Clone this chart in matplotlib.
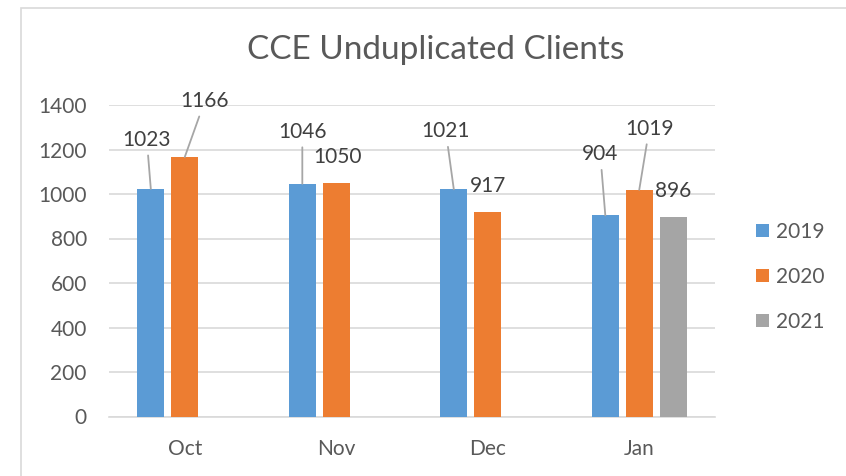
#!/usr/bin/python3

import numpy as np
import matplotlib
matplotlib.use("Agg")
import matplotlib.pyplot as plt
from matplotlib.patches import Rectangle

# data
months = ["Oct", "Nov", "Dec", "Jan"]
years = ["2019", "2020", "2021"]
v2019 = [1023, 1046, 1021, 904]
v2020 = [1166, 1050, 917, 1019]
v2021 = [None, None, None, 896]
colors = ["#5B9BD5", "#ED7D31", "#A5A5A5"]

# label offsets (pixels) from the top of each bar
off2019 = [(-4, 49), (0, 52), (-8, 58), (-5, 61)]
off2020 = [(20, 56), (1, 26), (0, 26), (10, 61)]
off2021 = [None, None, None, (0, 26)]
leader2019 = [True, True, True, True]
leader2020 = [True, False, False, True]
leader2021 = [False, False, False, False]

plt.rcParams['font.family'] = ['Lato', 'DejaVu Sans']

fig = plt.figure(figsize=(8.46, 4.76), dpi=100)
# chart area border (cropped at right / bottom)
fig.patches.append(Rectangle((21 / 846, -0.1), 1.2, 1.1 - 8 / 476,
                             transform=fig.transFigure, fill=False,
                             edgecolor="#D9D9D9", linewidth=1.2))

ax = fig.add_axes([109 / 846, 1 - 416.5 / 476, 606 / 846, 311.5 / 476])

x = np.arange(len(months))
w = 0.178
shift = 0.224
series = [v2019, v2020, v2021]
offsets = [off2019, off2020, off2021]
leaders = [leader2019, leader2020, leader2021]

for i, vals in enumerate(series):
    xs = [x[j] + (i - 1) * shift for j in range(len(vals)) if vals[j] is not None]
    ys = [v for v in vals if v is not None]
    ax.bar(xs, ys, width=w, color=colors[i], label=years[i], zorder=3)
    for j, v in enumerate(vals):
        if v is None:
            continue
        xb = x[j] + (i - 1) * shift
        ap = None
        if leaders[i][j]:
            ap = dict(arrowstyle="-", color="#A6A6A6", lw=1.3,
                      shrinkA=2, shrinkB=0)
        ax.annotate(str(v), xy=(xb, v), xytext=offsets[i][j],
                    textcoords="offset pixels", ha="center", va="center",
                    fontsize=15, color="#404040", arrowprops=ap, zorder=4)

ax.set_xlim(-0.5, 3.5)
ax.set_ylim(0, 1400)
ax.set_yticks(range(0, 1401, 200))
ax.set_xticks(x)
ax.set_xticklabels(months)
ax.grid(axis="y", color="#D9D9D9", linewidth=1.2, zorder=0)
for s in ["top", "right", "left"]:
    ax.spines[s].set_visible(False)
ax.spines["bottom"].set_color("#D9D9D9")
ax.spines["bottom"].set_linewidth(1.2)
ax.tick_params(axis="both", length=0, labelsize=15, labelcolor="#595959")
ax.tick_params(axis="x", pad=16)
ax.tick_params(axis="y", pad=16)

fig.text(436 / 846, 1 - 50 / 476, "CCE Unduplicated Clients", ha="center",
         va="center", fontsize=24, color="#595959")

ax.legend(loc="center left", bbox_to_anchor=(756 / 846, 1 - 277 / 476),
          bbox_transform=fig.transFigure, frameon=False, borderaxespad=0,
          borderpad=0, handlelength=0.6, handleheight=0.6,
          handletextpad=0.35, labelspacing=1.2, fontsize=15,
          labelcolor="#595959")

fig.savefig("out.png", dpi=100)
